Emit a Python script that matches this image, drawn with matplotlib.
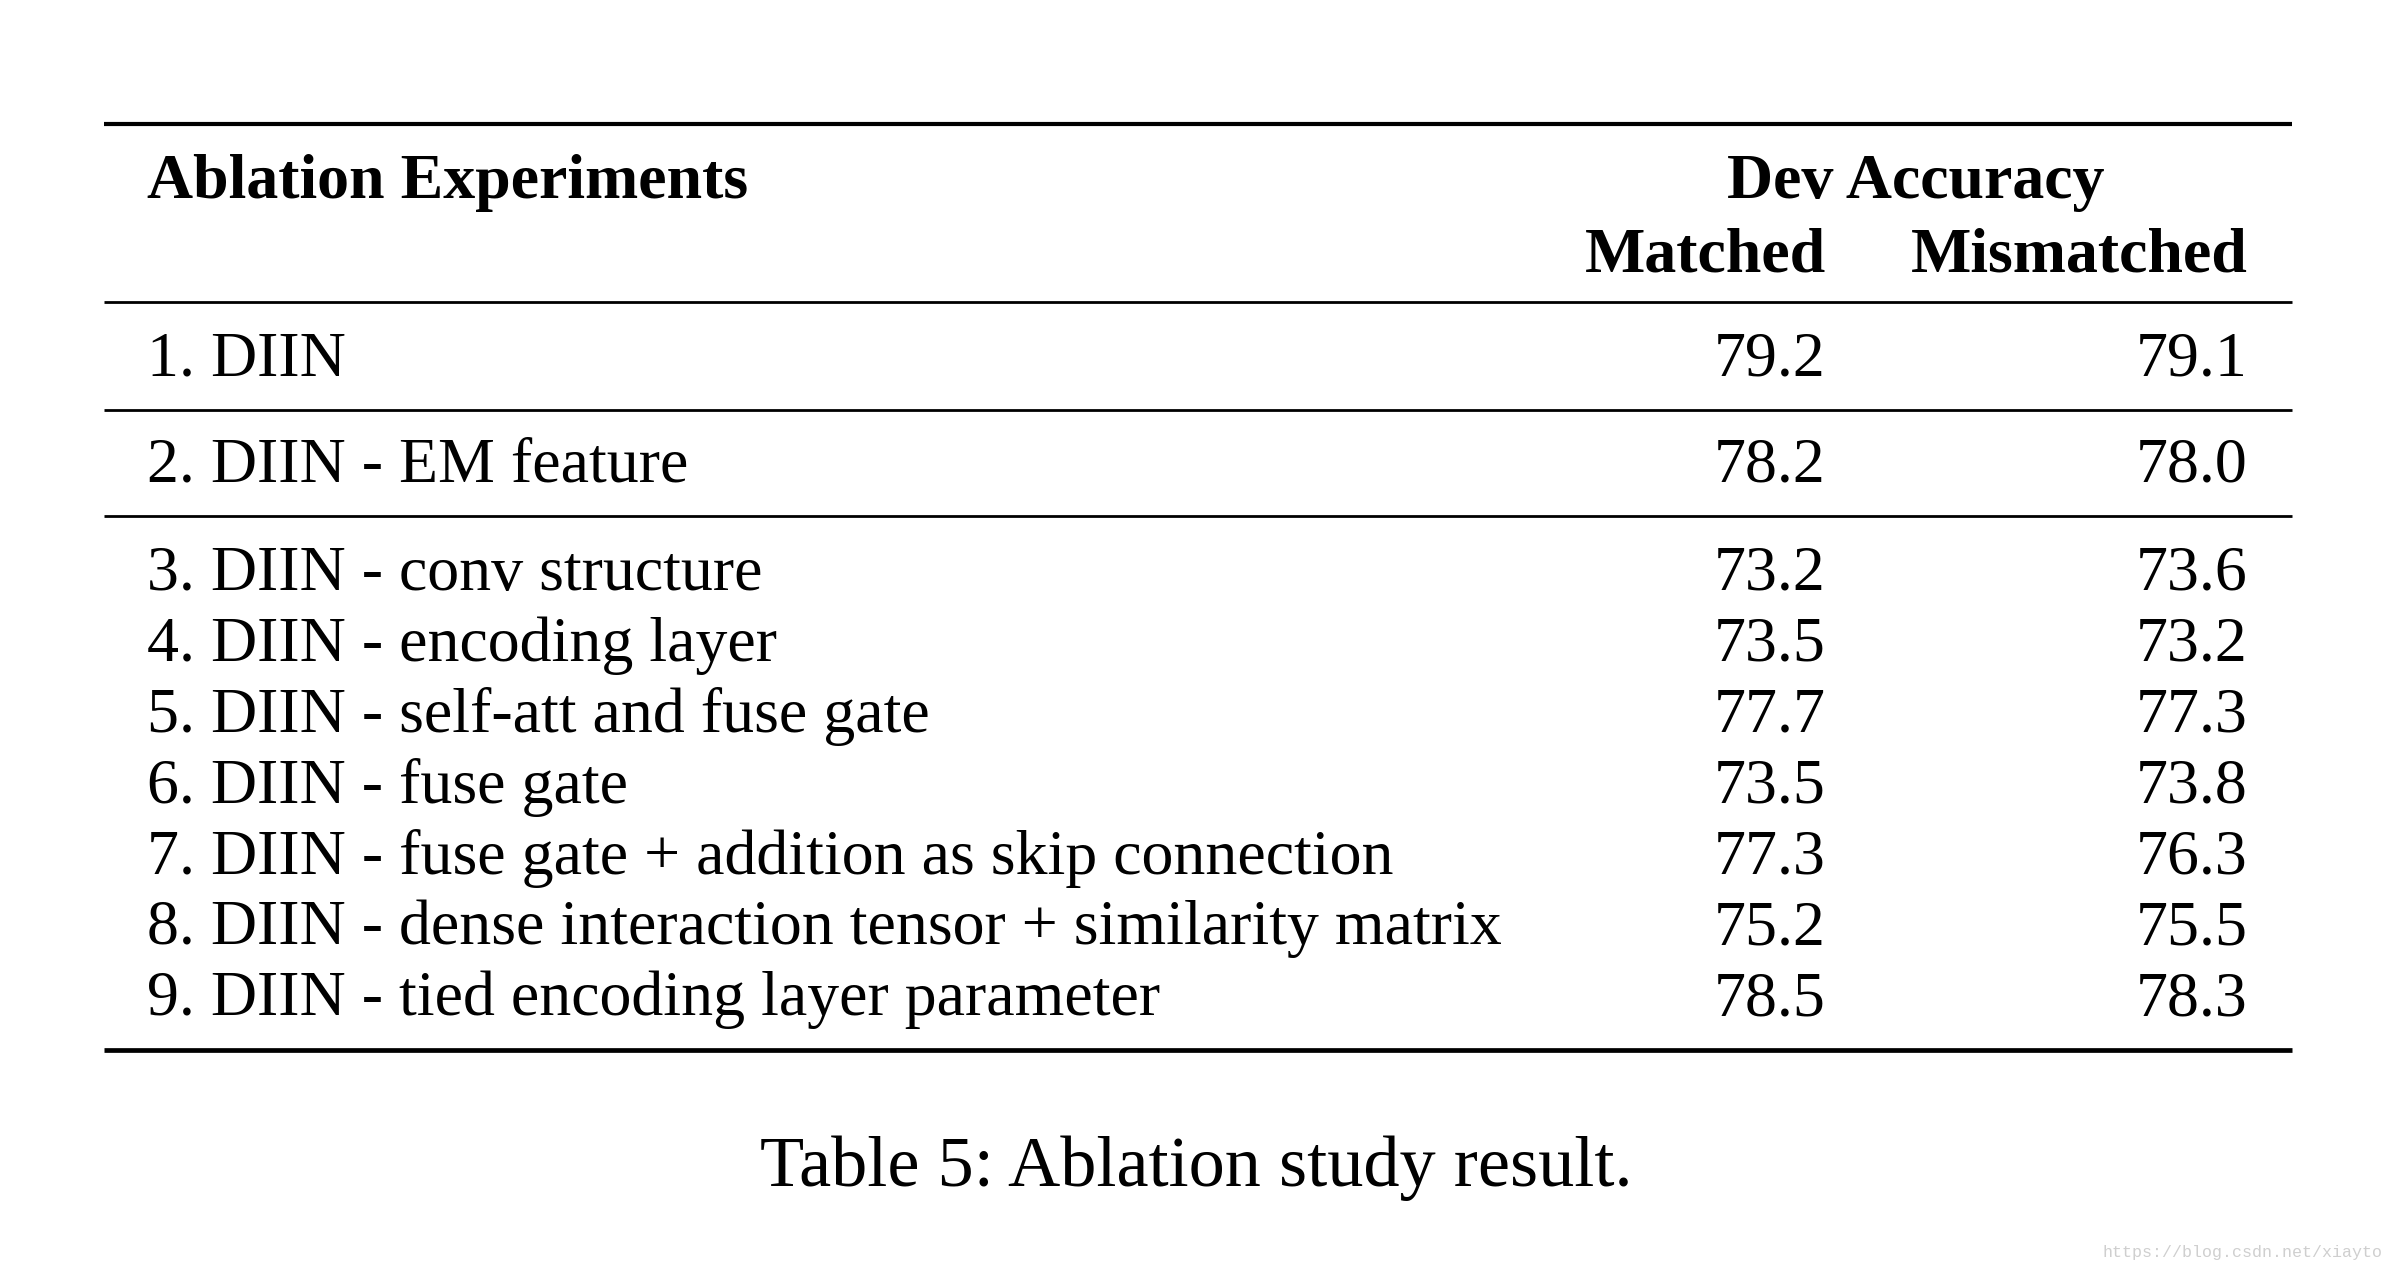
import matplotlib
matplotlib.use("Agg")
import matplotlib.pyplot as plt

# table contents
experiments = [
    "1. DIIN",
    "2. DIIN - EM feature",
    "3. DIIN - conv structure",
    "4. DIIN - encoding layer",
    "5. DIIN - self-att and fuse gate",
    "6. DIIN - fuse gate",
    "7. DIIN - fuse gate + addition as skip connection",
    "8. DIIN - dense interaction tensor + similarity matrix",
    "9. DIIN - tied encoding layer parameter",
]
matched = [79.2, 78.2, 73.2, 73.5, 77.7, 73.5, 77.3, 75.2, 78.5]
mismatched = [79.1, 78.0, 73.6, 73.2, 77.3, 73.8, 76.3, 75.5, 78.3]
caption = "Table 5: Ablation study result."
watermark = "https://blog.csdn.net/xiayto"

W, H = 2396, 1272
fig = plt.figure(figsize=(W / 100, H / 100), dpi=100)
ax = fig.add_axes([0, 0, 1, 1])
ax.set_xlim(0, W)
ax.set_ylim(H, 0)
ax.axis("off")

serif = "Liberation Serif"
fs = 46

# column anchors (pixel layout)
x_left, x_right = 104, 2292
x_name = 147
x_match = 1826
x_mis = 2248

# rules
ax.hlines(124, x_left, x_right, color="black", lw=3.0)
ax.hlines(302, x_left, x_right, color="black", lw=2.0)
ax.hlines(410, x_left, x_right, color="black", lw=2.0)
ax.hlines(516, x_left, x_right, color="black", lw=2.0)
ax.hlines(1050, x_left, x_right, color="black", lw=3.4)

# header
ax.text(x_name, 198, "Ablation Experiments", family=serif, weight="bold",
        fontsize=fs, va="baseline", ha="left")
ax.text(1916, 198, "Dev Accuracy", family=serif, weight="bold",
        fontsize=fs, va="baseline", ha="center")
ax.text(x_match, 271, "Matched", family=serif, weight="bold",
        fontsize=fs, va="baseline", ha="right")
ax.text(x_mis, 271, "Mismatched", family=serif, weight="bold",
        fontsize=fs, va="baseline", ha="right")

# body rows
baselines = [376, 482] + [590 + 70.9 * i for i in range(7)]
for name, m, mm, yb in zip(experiments, matched, mismatched, baselines):
    ax.text(x_name, yb, name, family=serif, fontsize=fs, va="baseline", ha="left")
    ax.text(x_match, yb, f"{m:.1f}", family=serif, fontsize=fs, va="baseline", ha="right")
    ax.text(x_mis, yb, f"{mm:.1f}", family=serif, fontsize=fs, va="baseline", ha="right")

# caption
ax.text(1196, 1186, caption, family=serif, fontsize=52, va="baseline", ha="center")

# watermark
ax.text(2383, 1257, watermark, family="Liberation Mono", fontsize=12,
        color="#cfcfcf", va="baseline", ha="right")

fig.savefig("out.png", dpi=100, facecolor="white")
